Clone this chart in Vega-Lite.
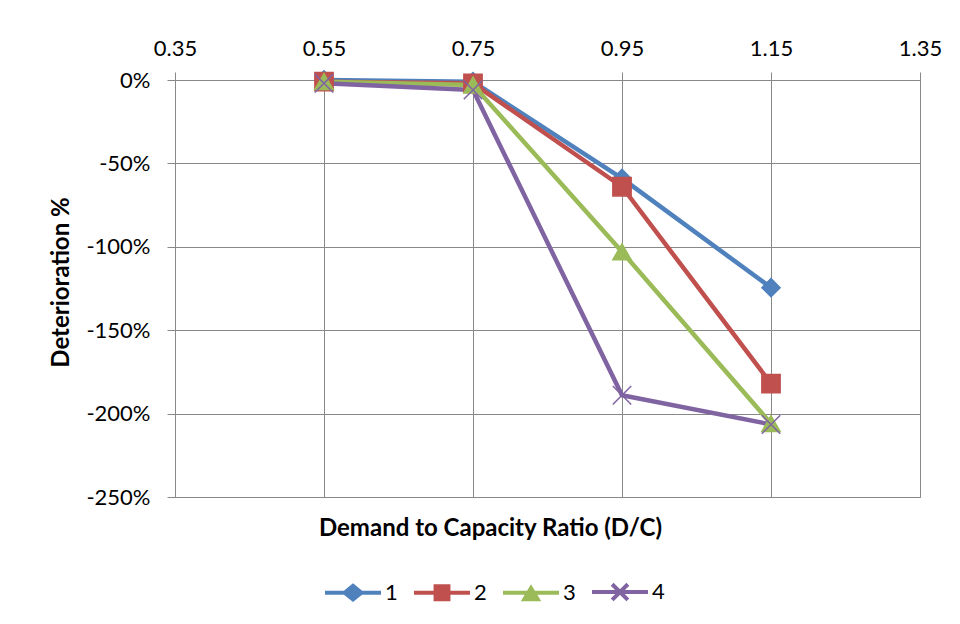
{
  "$schema": "https://vega.github.io/schema/vega-lite/v6.json",
  "width": 745,
  "height": 417,
  "autosize": {"type": "none"},
  "padding": {"left": 175, "top": 80, "right": 40, "bottom": 127},
  "background": "white",
  "config": {
    "font": "Lato",
    "view": {"stroke": "#888888", "strokeWidth": 1},
    "axis": {
      "domainColor": "#888888",
      "gridColor": "#888888",
      "tickColor": "#888888",
      "domainWidth": 1,
      "gridWidth": 1,
      "tickWidth": 1,
      "tickSize": 8,
      "labelColor": "black",
      "titleColor": "black",
      "labelFont": "Lato",
      "titleFont": "Lato",
      "labelFontSize": 22,
      "titleFontSize": 24,
      "titleFontWeight": "bold"
    },
    "legend": {"labelFont": "Lato", "labelFontSize": 22, "labelColor": "black"}
  },
  "data": {
    "values": [
      {"series": "1", "dc": 0.55, "det": 0},
      {"series": "1", "dc": 0.75, "det": -1},
      {"series": "1", "dc": 0.95, "det": -59},
      {"series": "1", "dc": 1.15, "det": -124.5},
      {"series": "2", "dc": 0.55, "det": -1},
      {"series": "2", "dc": 0.75, "det": -2},
      {"series": "2", "dc": 0.95, "det": -64},
      {"series": "2", "dc": 1.15, "det": -182},
      {"series": "3", "dc": 0.55, "det": -1},
      {"series": "3", "dc": 0.75, "det": -3},
      {"series": "3", "dc": 0.95, "det": -103},
      {"series": "3", "dc": 1.15, "det": -206},
      {"series": "4", "dc": 0.55, "det": -2},
      {"series": "4", "dc": 0.75, "det": -6},
      {"series": "4", "dc": 0.95, "det": -189},
      {"series": "4", "dc": 1.15, "det": -206.5}
    ]
  },
  "resolve": {
    "axis": {"x": "independent"},
    "scale": {"shape": "independent", "size": "independent", "color": "independent", "stroke": "independent"}
  },
  "layer": [
    {
      "mark": {"type": "line", "strokeWidth": 4.5, "strokeCap": "round", "strokeJoin": "round"},
      "encoding": {
        "x": {
          "field": "dc", "type": "quantitative",
          "scale": {"domain": [0.35, 1.35], "nice": false, "zero": false},
          "axis": {
            "orient": "top",
            "values": [0.35, 0.55, 0.75, 0.95, 1.15, 1.35],
            "labelExpr": "format(datum.value, '.2f')",
            "title": null,
            "grid": true,
            "labelPadding": 12,
            "labelFlush": false
          }
        },
        "y": {
          "field": "det", "type": "quantitative",
          "scale": {"domain": [-250, 0], "nice": false, "zero": false},
          "axis": {
            "values": [0, -50, -100, -150, -200, -250],
            "labelExpr": "datum.value + '%'",
            "grid": true,
            "labelPadding": 17,
            "labelFlush": false,
            "title": "Deterioration %",
            "titleX": -114,
            "titleY": 202,
            "titleAngle": -90,
            "titleAlign": "center",
            "titleBaseline": "middle"
          }
        },
        "color": {
          "field": "series", "type": "nominal",
          "scale": {"domain": ["1", "2", "3", "4"], "range": ["#4F81BD", "#C0504D", "#9BBB59", "#8064A2"]},
          "legend": null
        }
      }
    },
    {
      "mark": {"type": "point", "filled": true, "opacity": 1, "strokeWidth": 1.5},
      "encoding": {
        "x": {"field": "dc", "type": "quantitative", "axis": null},
        "y": {
          "field": "det", "type": "quantitative",
          "scale": {"domain": [-250, 0], "nice": false, "zero": false},
          "axis": {
            "values": [0, -50, -100, -150, -200, -250],
            "labelExpr": "datum.value + '%'",
            "grid": true,
            "labelPadding": 17,
            "labelFlush": false,
            "title": "Deterioration %",
            "titleX": -114,
            "titleY": 202,
            "titleAngle": -90,
            "titleAlign": "center",
            "titleBaseline": "middle"
          }
        },
        "color": {
          "field": "series", "type": "nominal",
          "scale": {"domain": ["1", "2", "3", "4"], "range": ["#4F81BD", "#C0504D", "#9BBB59", "#8064A2"]},
          "legend": null
        },
        "stroke": {
          "field": "series", "type": "nominal",
          "scale": {"domain": ["1", "2", "3", "4"], "range": ["#4F81BD", "#C0504D", "#9BBB59", "#8064A2"]},
          "legend": null
        },
        "shape": {
          "field": "series", "type": "nominal",
          "scale": {"domain": ["1", "2", "3", "4"], "range": ["diamond", "square", "triangle-up", "M-1,-1L1,1M-1,1L1,-1"]},
          "legend": null
        },
        "size": {
          "field": "series", "type": "nominal",
          "scale": {"domain": ["1", "2", "3", "4"], "range": [330, 340, 300, 200]},
          "legend": null
        }
      }
    },
    {
      "mark": {"type": "point", "filled": true, "opacity": 0},
      "encoding": {
        "x": {
          "field": "dc", "type": "quantitative",
          "axis": {
            "orient": "bottom",
            "labels": false,
            "ticks": false,
            "domain": false,
            "grid": false,
            "title": "Demand to Capacity Ratio (D/C)",
            "titleX": 315,
            "titleY": 31,
            "titleAlign": "center",
            "titleBaseline": "middle"
          }
        },
        "y": {
          "field": "det", "type": "quantitative",
          "scale": {"domain": [-250, 0], "nice": false, "zero": false},
          "axis": {
            "values": [0, -50, -100, -150, -200, -250],
            "labelExpr": "datum.value + '%'",
            "grid": true,
            "labelPadding": 17,
            "labelFlush": false,
            "title": "Deterioration %",
            "titleX": -114,
            "titleY": 202,
            "titleAngle": -90,
            "titleAlign": "center",
            "titleBaseline": "middle"
          }
        },
        "color": {
          "field": "series", "type": "nominal",
          "scale": {"domain": ["1", "2", "3", "4"], "range": ["#4F81BD", "#C0504D", "#9BBB59", "#8064A2"]},
          "legend": {
            "title": null,
            "orient": "none",
            "direction": "horizontal",
            "legendX": 148,
            "legendY": 482,
            "symbolSize": 3136,
            "symbolStrokeWidth": 4,
            "symbolOpacity": 1,
            "labelOffset": 2,
            "columnPadding": 8,
            "padding": 0
          }
        },
        "stroke": {
          "field": "series", "type": "nominal",
          "scale": {"domain": ["1", "2", "3", "4"], "range": ["#4F81BD", "#C0504D", "#9BBB59", "#8064A2"]},
          "legend": {
            "title": null,
            "orient": "none",
            "direction": "horizontal",
            "legendX": 148,
            "legendY": 482,
            "symbolSize": 3136,
            "symbolStrokeWidth": 4,
            "symbolOpacity": 1,
            "labelOffset": 2,
            "columnPadding": 8,
            "padding": 0
          }
        },
        "shape": {
          "field": "series", "type": "nominal",
          "scale": {
            "domain": ["1", "2", "3", "4"],
            "range": [
              "M-1,0H1M0,-0.24L0.3,0L0,0.24L-0.3,0Z",
              "M-1,0H1M-0.23,-0.23H0.23V0.23H-0.23Z",
              "M-1,0H1M-0.24,0.24L0,-0.16L0.24,0.24Z",
              "M-1,0H1M-0.28,-0.28L0.28,0.28M-0.28,0.28L0.28,-0.28"
            ]
          },
          "legend": {
            "title": null,
            "orient": "none",
            "direction": "horizontal",
            "legendX": 148,
            "legendY": 482,
            "symbolSize": 3136,
            "symbolStrokeWidth": 4,
            "symbolOpacity": 1,
            "labelOffset": 2,
            "columnPadding": 8,
            "padding": 0
          }
        }
      }
    }
  ]
}
